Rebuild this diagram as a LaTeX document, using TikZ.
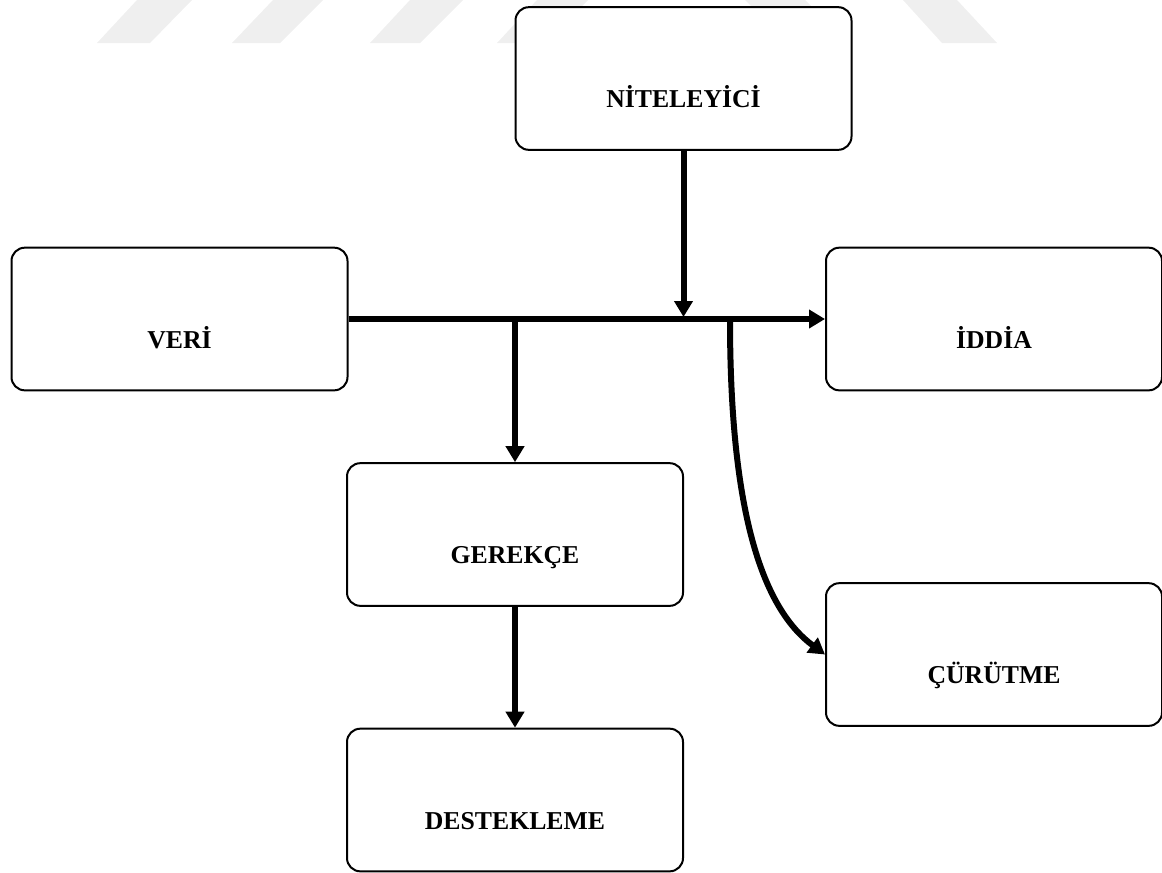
\documentclass[tikz,border=0pt]{standalone}
\usepackage{fontspec}
\setmainfont{Liberation Serif}
\usetikzlibrary{arrows.meta}
\definecolor{stripegray}{HTML}{EFEFEF}
\begin{document}
\begin{tikzpicture}[x=0.75pt,y=-0.75pt,
  stagebox/.style={draw=black,line width=1.5pt,rounded corners=10pt,fill=white,
    minimum width=252pt,minimum height=107pt,inner sep=0pt},
  stagetext/.style={font=\fontsize{19.3}{23}\selectfont\bfseries,inner sep=0pt,anchor=base},
  link/.style={line width=4.5pt,-{Triangle[length=12pt,width=13.5pt]}},
  stripe/.style={fill=stripegray}]
\useasboundingbox (0,0) rectangle (1162,872);
% faint stripes along the top edge
\fill[stripe] (97,43) -- (150,43) -- (192,0) -- (137,0) -- cycle;
\fill[stripe] (232,43) -- (280,43) -- (323,0) -- (273,0) -- cycle;
\fill[stripe] (370,43) -- (420,43) -- (463,0) -- (410,0) -- cycle;
\fill[stripe] (497,43) -- (545,43) -- (588,0) -- (537,0) -- cycle;
\fill[stripe] (745,0) -- (805,0) -- (848,43) -- (788,43) -- cycle;
\fill[stripe] (903,0) -- (957,0) -- (997,43) -- (942,43) -- cycle;
% boxes
\node[stagebox] (nit) at (683.5,78.5) {};
\node[stagebox] (veri) at (179.5,319) {};
\node[stagebox] (iddia) at (994,319) {};
\node[stagebox] (ger) at (515,534.5) {};
\node[stagebox] (cur) at (994,654.5) {};
\node[stagebox] (des) at (515,800) {};
% labels, set a little below each box centre
\node[stagetext] (nit-t) at ([yshift=-21.8pt]nit.center) {NİTELEYİCİ};
\node[stagetext] (veri-t) at ([yshift=-21.8pt]veri.center) {VERİ};
\node[stagetext] (iddia-t) at ([yshift=-21.8pt]iddia.center) {İDDİA};
\node[stagetext] (ger-t) at ([yshift=-21.8pt]ger.center) {GEREKÇE};
\node[stagetext] (cur-t) at ([yshift=-21.8pt]cur.center) {ÇÜRÜTME};
\node[stagetext] (des-t) at ([yshift=-21.8pt]des.center) {DESTEKLEME};
% branch points on the main line
\coordinate (jq) at (nit.south |- 0,317);
\coordinate (jw) at (ger.north |- 0,320);
\coordinate (jr) at (730,320);
% connectors
\draw[link] (veri.east) -- (iddia.west);
\draw[link] (nit.south) -- (jq);
\draw[link] (jw) -- (ger.north);
\draw[link] (jr) .. controls (730,520) and (765,610) .. (cur.west);
\draw[link] (ger.south) -- (des.north);
\end{tikzpicture}
\end{document}
